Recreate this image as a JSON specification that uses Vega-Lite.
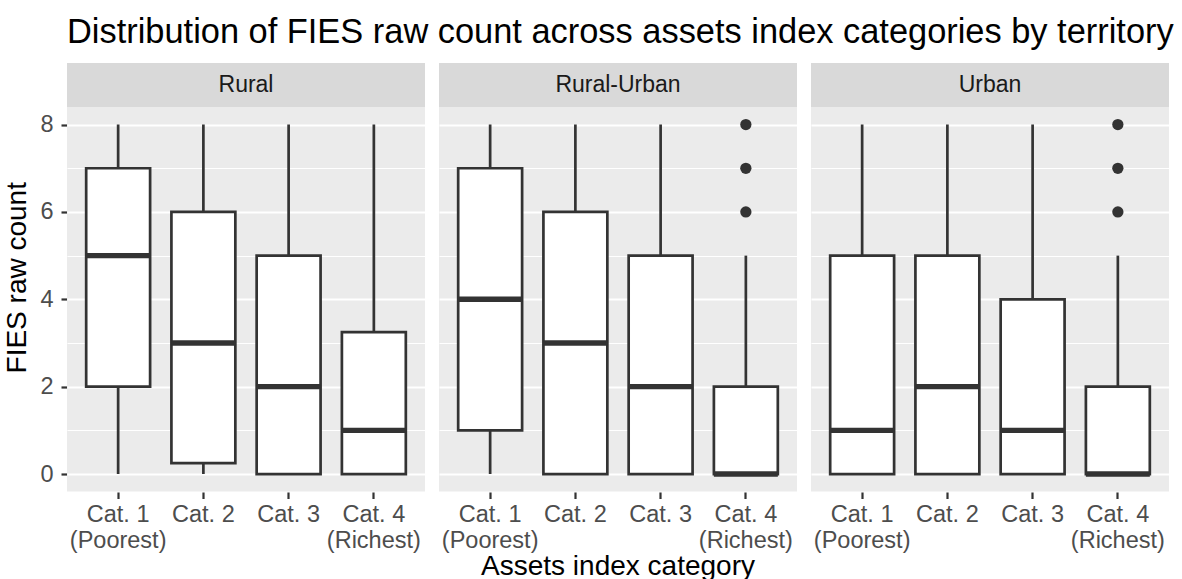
{
  "$schema": "https://vega.github.io/schema/vega-lite/v6.json",
  "background": "white",
  "padding": {"left": 3, "top": 14, "right": 0, "bottom": 0},
  "title": {
    "text": "Distribution of FIES raw count across assets index categories by territory",
    "anchor": "start",
    "frame": "group",
    "fontSize": 34.4,
    "font": "Liberation Sans",
    "fontWeight": "normal",
    "color": "black",
    "offset": 13,
    "dx": 0
  },
  "data": {
    "values": [
      {"territory": "Rural", "cat": "Cat. 1 (Poorest)", "lower": 0, "q1": 2, "median": 5, "q3": 7, "upper": 8, "outliers": []},
      {"territory": "Rural", "cat": "Cat. 2", "lower": 0, "q1": 0.25, "median": 3, "q3": 6, "upper": 8, "outliers": []},
      {"territory": "Rural", "cat": "Cat. 3", "lower": 0, "q1": 0, "median": 2, "q3": 5, "upper": 8, "outliers": []},
      {"territory": "Rural", "cat": "Cat. 4 (Richest)", "lower": 0, "q1": 0, "median": 1, "q3": 3.25, "upper": 8, "outliers": []},
      {"territory": "Rural-Urban", "cat": "Cat. 1 (Poorest)", "lower": 0, "q1": 1, "median": 4, "q3": 7, "upper": 8, "outliers": []},
      {"territory": "Rural-Urban", "cat": "Cat. 2", "lower": 0, "q1": 0, "median": 3, "q3": 6, "upper": 8, "outliers": []},
      {"territory": "Rural-Urban", "cat": "Cat. 3", "lower": 0, "q1": 0, "median": 2, "q3": 5, "upper": 8, "outliers": []},
      {"territory": "Rural-Urban", "cat": "Cat. 4 (Richest)", "lower": 0, "q1": 0, "median": 0, "q3": 2, "upper": 5, "outliers": [6, 7, 8]},
      {"territory": "Urban", "cat": "Cat. 1 (Poorest)", "lower": 0, "q1": 0, "median": 1, "q3": 5, "upper": 8, "outliers": []},
      {"territory": "Urban", "cat": "Cat. 2", "lower": 0, "q1": 0, "median": 2, "q3": 5, "upper": 8, "outliers": []},
      {"territory": "Urban", "cat": "Cat. 3", "lower": 0, "q1": 0, "median": 1, "q3": 4, "upper": 8, "outliers": []},
      {"territory": "Urban", "cat": "Cat. 4 (Richest)", "lower": 0, "q1": 0, "median": 0, "q3": 2, "upper": 5, "outliers": [6, 7, 8]}
    ]
  },
  "facet": {
    "column": {
      "field": "territory",
      "type": "nominal",
      "header": {
        "labels": false,
        "title": "Assets index category",
        "titleOrient": "bottom",
        "titleFontSize": 28,
        "titleFont": "Liberation Sans",
        "titleFontWeight": "normal",
        "titleColor": "black",
        "titlePadding": -9
      }
    }
  },
  "spacing": 14,
  "spec": {
    "width": 358,
    "height": 428.5,
    "layer": [
      {
        "mark": {"type": "rule", "color": "#333333", "strokeWidth": 2.7},
        "encoding": {
          "x": {
            "field": "cat", "type": "nominal", "sort": null,
            "scale": {"paddingInner": 0.25, "paddingOuter": 0.225},
            "axis": {
              "title": null,
              "bandPosition": 0.5,
              "labelAngle": 0,
              "labelExpr": "indexof(datum.label, ' (') > 0 ? [substring(datum.label, 0, indexof(datum.label, ' (')), substring(datum.label, indexof(datum.label, ' (') + 1)] : datum.label",
              "labelLineHeight": 26,
              "labelPadding": 4,
              "tickSize": 6.5,
              "tickWidth": 2.2,
              "gridWidth": 2.2
            }
          },
          "y": {
            "field": "lower", "type": "quantitative",
            "scale": {"domain": [-0.4, 9.41], "nice": false, "zero": false},
            "axis": {
              "title": "FIES raw count",
              "values": [0, 1, 2, 3, 4, 5, 6, 7, 8],
              "labelExpr": "datum.value % 2 === 0 ? datum.label : ''",
              "tickOpacity": {"condition": {"test": "datum.value % 2 === 0", "value": 1}, "value": 0},
              "gridWidth": {"condition": {"test": "datum.value % 2 === 0", "value": 2.2}, "value": 1.1},
              "tickSize": 6,
              "tickWidth": 2.2,
              "labelPadding": 8,
              "titlePadding": 8
            }
          },
          "y2": {"field": "upper"}
        }
      },
      {
        "mark": {"type": "bar", "fill": "white", "stroke": "#333333", "strokeWidth": 2.7},
        "encoding": {
          "x": {"field": "cat", "type": "nominal", "sort": null},
          "y": {"field": "q1", "type": "quantitative"},
          "y2": {"field": "q3"}
        }
      },
      {
        "mark": {"type": "tick", "orient": "horizontal", "color": "#333333", "thickness": 5.4, "opacity": 1},
        "encoding": {
          "x": {"field": "cat", "type": "nominal", "sort": null},
          "y": {"field": "median", "type": "quantitative"}
        }
      },
      {
        "transform": [{"flatten": ["outliers"]}],
        "mark": {"type": "point", "filled": true, "color": "#333333", "size": 127, "opacity": 1},
        "encoding": {
          "x": {"field": "cat", "type": "nominal", "sort": null},
          "y": {"field": "outliers", "type": "quantitative"}
        }
      },
      {
        "transform": [{"filter": "datum.cat === 'Cat. 1 (Poorest)'"}],
        "mark": {"type": "rect", "fill": "#D9D9D9"},
        "encoding": {
          "x": {"value": 0},
          "x2": {"value": "width"},
          "y": {"datum": 8.4, "type": "quantitative"},
          "y2": {"datum": 9.41}
        }
      },
      {
        "transform": [{"filter": "datum.cat === 'Cat. 1 (Poorest)'"}],
        "mark": {"type": "text", "fontSize": 23, "color": "#1A1A1A", "baseline": "middle", "align": "center"},
        "encoding": {
          "x": {"datum": "Cat. 2", "type": "nominal", "bandPosition": 1.1667},
          "y": {"datum": 8.905, "type": "quantitative"},
          "text": {"field": "territory"}
        }
      }
    ]
  },
  "config": {
    "font": "Liberation Sans",
    "view": {"fill": "#EBEBEB", "stroke": null},
    "axis": {
      "domain": false,
      "gridColor": "white",
      "tickColor": "#333333",
      "labelColor": "#4D4D4D",
      "labelFontSize": 23.5,
      "labelFont": "Liberation Sans",
      "titleFont": "Liberation Sans",
      "titleFontSize": 28,
      "titleFontWeight": "normal",
      "titleColor": "black"
    }
  }
}
